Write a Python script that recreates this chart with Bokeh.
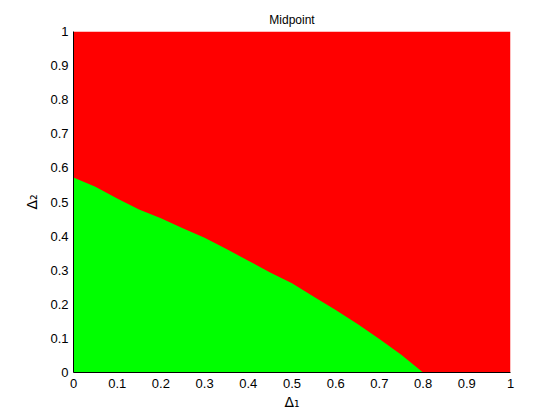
from bokeh.plotting import figure
from bokeh.embed import file_html
from bokeh.resources import INLINE
from bokeh.models import FixedTicker, Range1d

# Boundary between green (stable) and red regions
delta1 = [0.0, 0.05, 0.10, 0.15, 0.20, 0.25, 0.30, 0.35, 0.40, 0.45,
          0.50, 0.55, 0.60, 0.65, 0.70, 0.75, 0.80]
delta2_boundary = [0.572, 0.545, 0.510, 0.478, 0.452, 0.423, 0.395, 0.362, 0.328, 0.293,
                   0.262, 0.222, 0.183, 0.142, 0.098, 0.052, 0.0]
domain_x = [0.0, 1.0]
domain_y = [0.0, 1.0]
ticks = [0.0, 0.1, 0.2, 0.3, 0.4, 0.5, 0.6, 0.7, 0.8, 0.9, 1.0]
tick_labels = {0.0: "0", 0.1: "0.1", 0.2: "0.2", 0.3: "0.3", 0.4: "0.4", 0.5: "0.5",
               0.6: "0.6", 0.7: "0.7", 0.8: "0.8", 0.9: "0.9", 1.0: "1"}

p = figure(width=552, height=412, output_backend="svg", toolbar_location=None,
           x_range=Range1d(domain_x[0], domain_x[1]), y_range=Range1d(domain_y[0], domain_y[1]),
           min_border_left=73, min_border_right=42, min_border_top=31, min_border_bottom=39)

# red region over the full domain, green region below the boundary
p.quad(left=[domain_x[0]], right=[domain_x[1]], bottom=[domain_y[0]], top=[domain_y[1]],
       fill_color="#ff0000", line_color=None)
p.varea(x=delta1, y1=[0.0] * len(delta1), y2=delta2_boundary, fill_color="#00ff00")

p.title.text = "Midpoint"
p.title.align = "center"
p.title.text_font = "Liberation Sans"
p.title.text_font_size = "12px"
p.title.text_font_style = "normal"
p.title.text_color = "#000000"

p.grid.visible = False
p.outline_line_color = None
p.background_fill_color = "white"
p.border_fill_color = "white"

for ax in (p.xaxis[0], p.yaxis[0]):
    ax.ticker = FixedTicker(ticks=ticks)
    ax.major_label_overrides = tick_labels
    ax.major_tick_in = 0
    ax.major_tick_out = 0
    ax.minor_tick_line_color = None
    ax.axis_line_color = "black"
    ax.axis_line_width = 1
    ax.major_label_text_font = "Liberation Sans"
    ax.major_label_text_font_size = "13px"
    ax.major_label_text_color = "black"
    ax.axis_label_text_font = "DejaVu Sans"
    ax.axis_label_text_font_size = "14px"
    ax.axis_label_text_font_style = "normal"
    ax.axis_label_text_color = "black"

p.xaxis.axis_label = "Δ₁"
p.yaxis.axis_label = "Δ₂"
p.xaxis.major_label_standoff = 6
p.yaxis.major_label_standoff = 5
p.xaxis.axis_label_standoff = 3
p.yaxis.axis_label_standoff = 7

open("out.html", "w").write(file_html(p, INLINE))
